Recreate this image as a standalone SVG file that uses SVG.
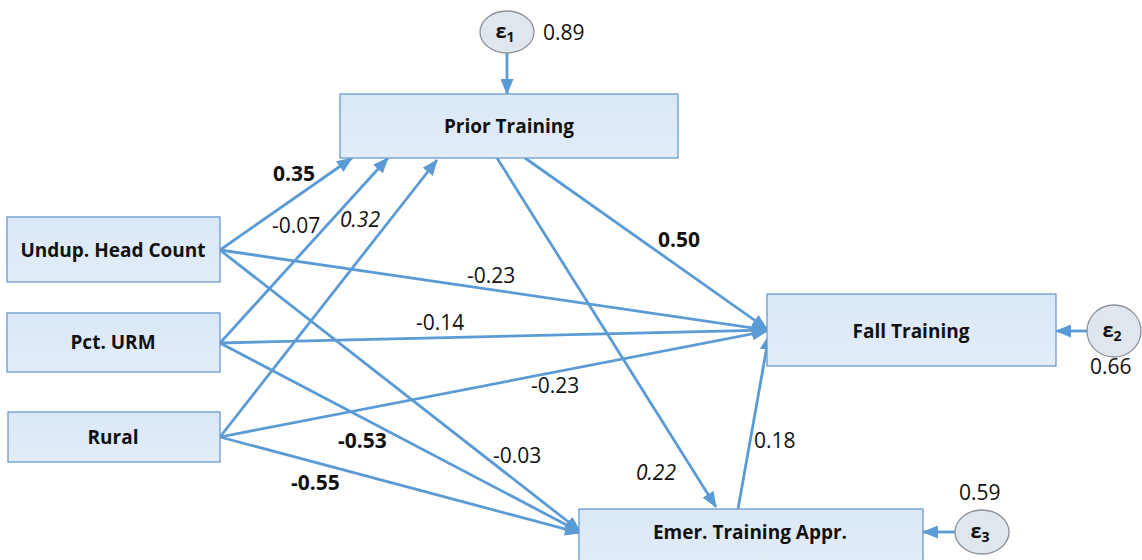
<svg xmlns="http://www.w3.org/2000/svg" width="1142" height="560" viewBox="0 0 1142 560">
<defs>
<linearGradient id="boxg" x1="0" y1="0" x2="0" y2="1">
<stop offset="0" stop-color="#d9e7f6"/>
<stop offset="1" stop-color="#e3edf8"/>
</linearGradient>
<marker id="ah" markerUnits="userSpaceOnUse" markerWidth="16" markerHeight="13" refX="15" refY="6.5" orient="auto">
<path d="M0,0 L16,6.5 L0,13 z" fill="#5b9bd5"/>
</marker>
<style>
.box{fill:url(#boxg);stroke:#6a9ad0;stroke-width:1.3}
.err{fill:#dfe6ee;stroke:#8c9199;stroke-width:1.3}
.lbl{font-family:"Open Sans","Liberation Sans",sans-serif;font-size:19px;font-weight:bold;fill:#111;text-anchor:middle}
.eps{font-family:"Open Sans","Liberation Sans",sans-serif;font-size:20px;font-weight:bold;fill:#111;text-anchor:middle}
.num{font-family:"Open Sans","Liberation Sans",sans-serif;font-size:21px;fill:#111}
.b{font-weight:bold}
.i{font-style:italic}
.c line{stroke:#5b9bd5;stroke-width:2.8;marker-end:url(#ah)}
</style>
</defs>
<g class="c" id="connectors">
<line x1="507" y1="53" x2="507" y2="94"/>
<line x1="1087" y1="331" x2="1056" y2="331"/>
<line x1="955" y1="532" x2="923" y2="532"/>
<line x1="220" y1="250" x2="352" y2="158"/>
<line x1="220" y1="343" x2="388" y2="158"/>
<line x1="220" y1="437" x2="437" y2="160"/>
<line x1="220" y1="250" x2="767" y2="330"/>
<line x1="220" y1="343" x2="767" y2="330"/>
<line x1="220" y1="437" x2="767" y2="331"/>
<line x1="220" y1="250" x2="580" y2="531"/>
<line x1="220" y1="343" x2="580" y2="532"/>
<line x1="220" y1="437" x2="580" y2="533"/>
<line x1="497" y1="158" x2="716" y2="507"/>
<line x1="525" y1="158" x2="767" y2="329"/>
<line x1="738" y1="509" x2="769" y2="335"/>
</g>
<g id="prior"><rect class="box" x="340" y="94" width="338" height="64"/><text class="lbl" x="509" y="133">Prior Training</text></g>
<g id="undup"><rect class="box" x="7" y="217" width="213" height="65"/><text class="lbl" x="113" y="257">Undup. Head Count</text></g>
<g id="urm"><rect class="box" x="7" y="313" width="213" height="59"/><text class="lbl" x="113" y="349">Pct. URM</text></g>
<g id="rural"><rect class="box" x="8" y="412" width="212" height="50"/><text class="lbl" x="113" y="444">Rural</text></g>
<g id="fall"><rect class="box" x="767" y="294" width="289" height="72"/><text class="lbl" x="911" y="338">Fall Training</text></g>
<g id="emer"><rect class="box" x="579" y="509" width="344" height="60"/><text class="lbl" x="750" y="539">Emer. Training Appr.</text></g>
<g id="e1"><ellipse class="err" cx="507" cy="32" rx="27" ry="21"/><text class="eps" x="505" y="38">ε<tspan font-size="14" dy="4">1</tspan></text><text class="num" x="543" y="40">0.89</text></g>
<g id="e2"><ellipse class="err" cx="1114" cy="331" rx="27" ry="26"/><text class="eps" x="1112" y="337">ε<tspan font-size="14" dy="4">2</tspan></text><text class="num" x="1090" y="374">0.66</text></g>
<g id="e3"><ellipse class="err" cx="982" cy="532" rx="27" ry="22"/><text class="eps" x="980" y="538">ε<tspan font-size="14" dy="4">3</tspan></text><text class="num" x="959" y="500">0.59</text></g>
<g id="labels">
<text class="num b" x="273" y="181">0.35</text>
<text class="num" x="272" y="233">-0.07</text>
<text class="num i" x="340" y="227">0.32</text>
<text class="num" x="467" y="283">-0.23</text>
<text class="num b" x="658" y="247">0.50</text>
<text class="num" x="416" y="330">-0.14</text>
<text class="num" x="531" y="393">-0.23</text>
<text class="num b" x="338" y="448">-0.53</text>
<text class="num b" x="291" y="490">-0.55</text>
<text class="num" x="493" y="463">-0.03</text>
<text class="num i" x="636" y="480">0.22</text>
<text class="num" x="754" y="448">0.18</text>
</g>
</svg>
